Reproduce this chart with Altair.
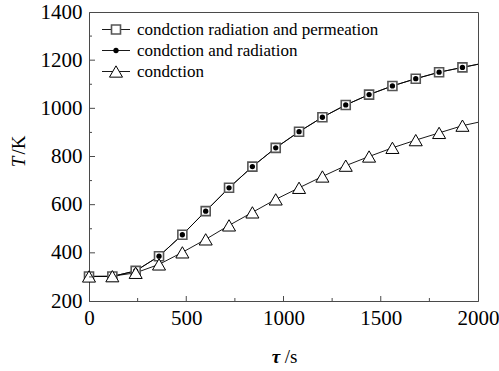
import altair as alt
import pandas as pd

# ---- data ----
time_s = [0, 120, 240, 360, 480, 600, 720, 840, 960, 1080, 1200, 1320, 1440,
          1560, 1680, 1800, 1920, 2000]
temp_rad_perm = [302, 302, 325, 386, 475, 573, 670, 758, 836, 903, 963, 1014,
                 1057, 1093, 1123, 1150, 1170, 1183]
temp_rad = [302, 302, 325, 386, 475, 573, 670, 758, 836, 903, 963, 1014,
            1057, 1093, 1123, 1150, 1170, 1183]
temp_cond = [302, 303, 317, 352, 402, 456, 514, 568, 622, 670, 717, 762,
             800, 836, 868, 898, 928, 942]
series_names = ["condction radiation and permeation",
                "condction and radiation",
                "condction"]
x_ticks = [0, 500, 1000, 1500, 2000]
x_minor = [250, 750, 1250, 1750]
y_ticks = [200, 400, 600, 800, 1000, 1200, 1400]
y_minor = [300, 500, 700, 900, 1100, 1300]

W, H = 389, 289
FONT = "'Liberation Serif', 'Times New Roman', Times, serif"
FRAME = "#4a4a4a"

rows = []
for name, vals in zip(series_names, [temp_rad_perm, temp_rad, temp_cond]):
    for t, v in zip(time_s, vals):
        rows.append({"t": t, "T": v, "series": name})
df = pd.DataFrame(rows)

xscale = alt.Scale(domain=[0, 2000], nice=False)
yscale = alt.Scale(domain=[200, 1400], nice=False)

xaxis = alt.Axis(values=x_ticks, format="d", labelFont=FONT, labelFontSize=21,
                 labelColor="black", ticks=False, tickSize=0, grid=False,
                 domainColor=FRAME, title=None, labelPadding=6, labelFlush=False)
yaxis = alt.Axis(values=y_ticks, format="d", labelFont=FONT, labelFontSize=21,
                 labelColor="black", ticks=False, tickSize=0, grid=False,
                 domainColor=FRAME, title=None, labelPadding=7)

X = alt.X("t:Q", scale=xscale, axis=xaxis)
Y = alt.Y("T:Q", scale=yscale, axis=yaxis)

base = alt.Chart(df).encode(x=X, y=Y)

lines = base.mark_line(color="black", strokeWidth=0.9).encode(detail="series:N")

markers = base.transform_filter(alt.datum.t < 2000)
squares = markers.transform_filter(alt.datum.series == series_names[0]).mark_square(
    size=81, fill="white", stroke="#555555", strokeWidth=1.6, opacity=1)
dots = markers.transform_filter(alt.datum.series == series_names[1]).mark_circle(
    size=28, color="black", opacity=1)
tris = markers.transform_filter(alt.datum.series == series_names[2]).mark_point(
    shape="triangle-up", size=170, filled=True, fill="white", stroke="black",
    strokeWidth=1, opacity=1)

# inward ticks (same field names and axes so the axes merge)
xt_major = alt.Chart(pd.DataFrame({"t": x_ticks[1:-1]})).mark_rule(color=FRAME).encode(
    x=X, y=alt.value(H), y2=alt.value(H - 5))
xt_minor = alt.Chart(pd.DataFrame({"t": x_minor})).mark_rule(color=FRAME).encode(
    x=X, y=alt.value(H), y2=alt.value(H - 3))
yt_major = alt.Chart(pd.DataFrame({"T": y_ticks[1:-1]})).mark_rule(color=FRAME).encode(
    y=Y, x=alt.value(0), x2=alt.value(6))
yt_minor = alt.Chart(pd.DataFrame({"T": y_minor})).mark_rule(color=FRAME).encode(
    y=Y, x=alt.value(0), x2=alt.value(3))

# legend
legend_df = pd.DataFrame({"label": series_names})
row_y = [17.5, 38.5, 59.5]
legend_layers = []
for i, name in enumerate(series_names):
    one = alt.Chart(legend_df).transform_filter(alt.datum.label == name)
    legend_layers.append(one.mark_rule(color="black", strokeWidth=0.9).encode(
        x=alt.value(13), x2=alt.value(41), y=alt.value(row_y[i])))
    if i == 0:
        sym = one.mark_square(size=81, fill="white", stroke="#555555", strokeWidth=1.6, opacity=1)
    elif i == 1:
        sym = one.mark_circle(size=28, color="black", opacity=1)
    else:
        sym = one.mark_point(shape="triangle-up", size=170, filled=True, fill="white",
                             stroke="black", strokeWidth=1, opacity=1)
    legend_layers.append(sym.encode(x=alt.value(27), y=alt.value(row_y[i])))
    legend_layers.append(one.mark_text(align="left", baseline="middle", font=FONT,
                                       fontSize=17, color="black").encode(
        x=alt.value(48), y=alt.value(row_y[i]), text="label:N"))

# axis titles (italic symbol + upright unit)
title_df = pd.DataFrame({"a": ["T", "/K", "τ", "/s"]})
tt = alt.Chart(title_df)
t_T = tt.transform_filter(alt.datum.a == "T").mark_text(
    font=FONT, fontSize=19, fontStyle="italic", angle=270, align="center",
    baseline="middle", color="black").encode(x=alt.value(-70), y=alt.value(150), text="a:N")
t_K = tt.transform_filter(alt.datum.a == "/K").mark_text(
    font=FONT, fontSize=19, angle=270, align="center",
    baseline="middle", color="black").encode(x=alt.value(-70), y=alt.value(133), text="a:N")
t_tau = tt.transform_filter(alt.datum.a == "τ").mark_text(
    font=FONT, fontSize=19, fontStyle="italic", fontWeight="bold", align="center",
    baseline="alphabetic", color="black").encode(x=alt.value(187), y=alt.value(351), text="a:N")
t_s = tt.transform_filter(alt.datum.a == "/s").mark_text(
    font=FONT, fontSize=19, align="center",
    baseline="alphabetic", color="black").encode(x=alt.value(202), y=alt.value(351), text="a:N")

chart = alt.layer(
    lines, squares, dots, tris,
    xt_major, xt_minor, yt_major, yt_minor,
    *legend_layers, t_T, t_K, t_tau, t_s,
).properties(
    width=W, height=H,
    autosize=alt.AutoSizeParams(type="none"),
    padding={"left": 89, "top": 12, "right": 21, "bottom": 70},
    background="white",
).configure_view(stroke=FRAME, strokeWidth=1)

chart.save("out.html", embed_options={"renderer": "svg", "actions": False})
